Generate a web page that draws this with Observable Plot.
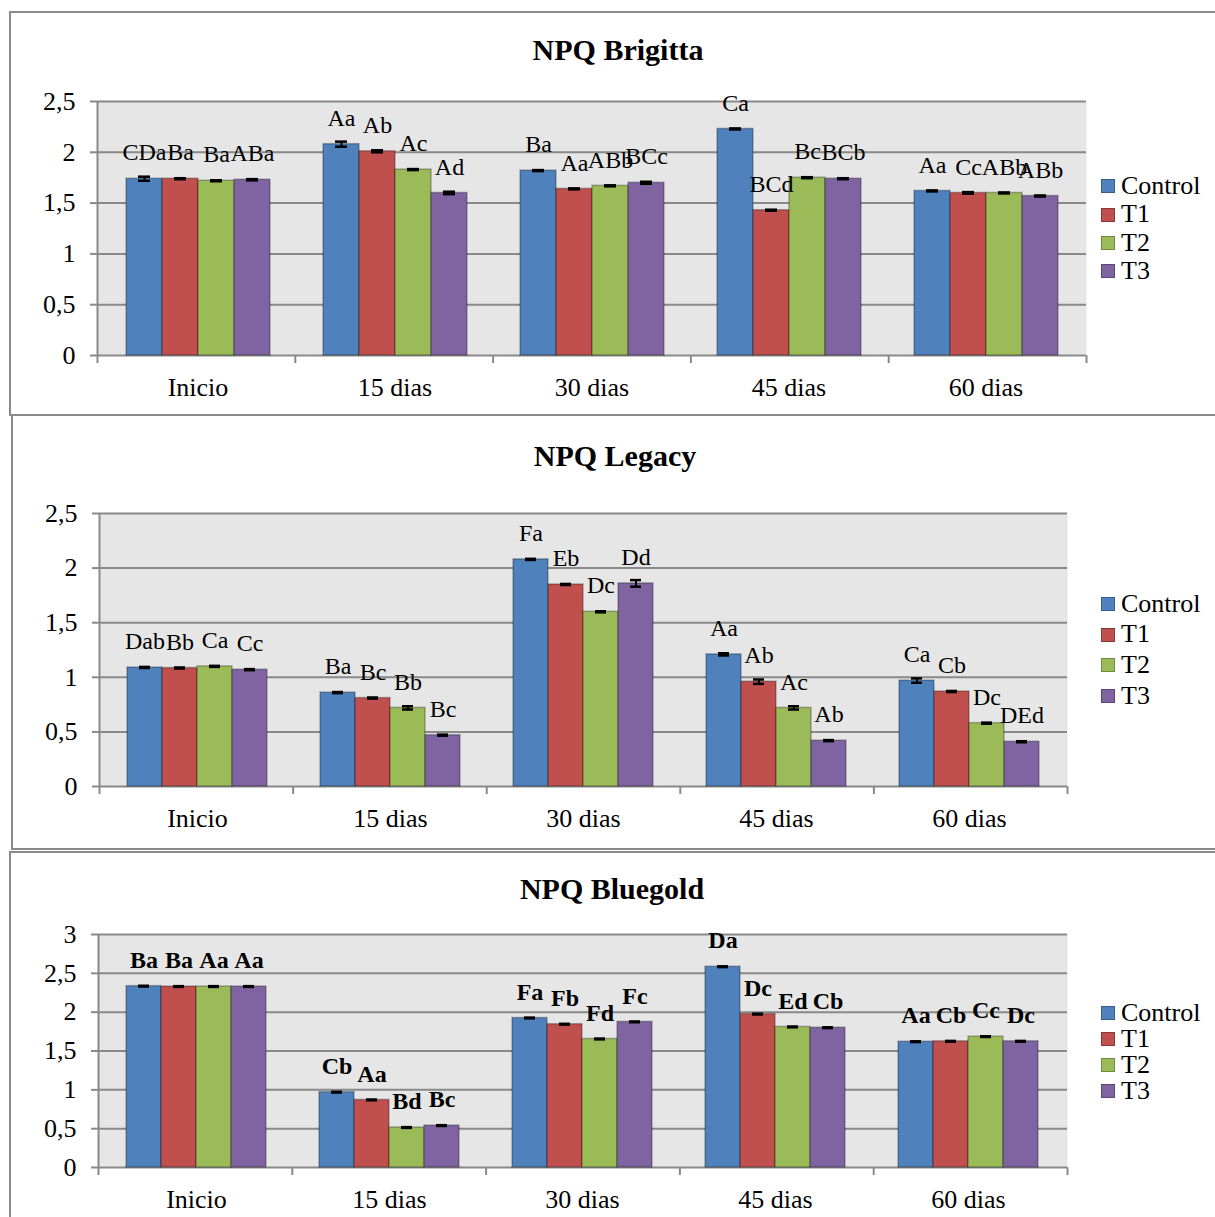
<!DOCTYPE html>
<html>
<head>
<meta charset="utf-8">
<script src="https://cdn.jsdelivr.net/npm/d3@7"></script>
<script src="https://cdn.jsdelivr.net/npm/@observablehq/plot@0.6"></script>
<style>
  body { margin: 0; background: #fff; }
  #root { position: relative; width: 1215px; height: 1217px; overflow: hidden;
          font-family: "Liberation Serif", "Times New Roman", serif; background: #fff; }
  .layer { position: absolute; left: 0; }
  .layer svg { display: block; }
  .bg svg { color: #898989; }
  .bg svg text { fill: #000; }
  .bg svg line, .bg svg path { stroke-width: 2px; }
  .title { position: absolute; font-weight: bold; font-size: 30px; line-height: 30px;
           white-space: nowrap; transform: translateX(-50%); z-index: 5; color: #000; }
  .legend { position: absolute; font-size: 26px; z-index: 5; color: #000; }
  .legend .row { display: flex; align-items: center; }
  .legend .sw { width: 12px; height: 12px; border: 1px solid; margin-right: 6px; }
  .box { position: absolute; box-sizing: border-box; border: 2px solid #8a8a8a; border-right: none; z-index: 4; }
</style>
</head>
<body>
<div id="root"></div>
<script>
const FONT = '"Liberation Serif", "Times New Roman", serif';

const categories = ["Inicio", "15 dias", "30 dias", "45 dias", "60 dias"];
const series = ["Control", "T1", "T2", "T3"];
const seriesColors = ["#4F81BD", "#C0504D", "#9BBB59", "#8064A2"];
const seriesEdges = ["#385D8A", "#8C3836", "#71893F", "#5C4776"];

// NPQ Brigitta
const brigittaTitle = "NPQ Brigitta";
const brigittaTicks = [0, 0.5, 1, 1.5, 2, 2.5];
const brigittaControl = [1.74, 2.08, 1.82, 2.23, 1.62];
const brigittaT1 = [1.74, 2.01, 1.64, 1.43, 1.60];
const brigittaT2 = [1.72, 1.83, 1.67, 1.75, 1.60];
const brigittaT3 = [1.73, 1.60, 1.70, 1.74, 1.57];
const brigittaErrControl = [0.02, 0.025, 0.005, 0.005, 0.005];
const brigittaErrT1 = [0.005, 0.01, 0.005, 0.005, 0.008];
const brigittaErrT2 = [0.005, 0.005, 0.005, 0.005, 0.005];
const brigittaErrT3 = [0.006, 0.012, 0.01, 0.005, 0.005];
const brigittaLabControl = ["CDa", "Aa", "Ba", "Ca", "Aa"];
const brigittaLabT1 = ["Ba", "Ab", "Aa", "BCd", "Cc"];
const brigittaLabT2 = ["Ba", "Ac", "ABb", "Bc", "ABb"];
const brigittaLabT3 = ["ABa", "Ad", "BCc", "BCb", "ABb"];

// NPQ Legacy
const legacyTitle = "NPQ Legacy";
const legacyTicks = [0, 0.5, 1, 1.5, 2, 2.5];
const legacyControl = [1.09, 0.86, 2.08, 1.21, 0.97];
const legacyT1 = [1.085, 0.81, 1.85, 0.96, 0.87];
const legacyT2 = [1.10, 0.72, 1.60, 0.72, 0.58];
const legacyT3 = [1.07, 0.47, 1.86, 0.42, 0.41];
const legacyErrControl = [0.005, 0.005, 0.005, 0.01, 0.02];
const legacyErrT1 = [0.005, 0.005, 0.005, 0.02, 0.005];
const legacyErrT2 = [0.005, 0.015, 0.005, 0.015, 0.005];
const legacyErrT3 = [0.005, 0.005, 0.03, 0.005, 0.005];
const legacyLabControl = ["Dab", "Ba", "Fa", "Aa", "Ca"];
const legacyLabT1 = ["Bb", "Bc", "Eb", "Ab", "Cb"];
const legacyLabT2 = ["Ca", "Bb", "Dc", "Ac", "Dc"];
const legacyLabT3 = ["Cc", "Bc", "Dd", "Ab", "DEd"];

// NPQ Bluegold
const bluegoldTitle = "NPQ Bluegold";
const bluegoldTicks = [0, 0.5, 1, 1.5, 2, 2.5, 3];
const bluegoldControl = [2.335, 0.97, 1.925, 2.585, 1.62];
const bluegoldT1 = [2.33, 0.87, 1.845, 1.975, 1.625];
const bluegoldT2 = [2.33, 0.515, 1.655, 1.81, 1.685];
const bluegoldT3 = [2.33, 0.54, 1.875, 1.80, 1.625];
const bluegoldErrControl = [0.005, 0.005, 0.005, 0.005, 0.005];
const bluegoldErrT1 = [0.005, 0.005, 0.005, 0.005, 0.005];
const bluegoldErrT2 = [0.005, 0.005, 0.005, 0.005, 0.005];
const bluegoldErrT3 = [0.005, 0.005, 0.005, 0.005, 0.005];
const bluegoldLabControl = ["Ba", "Cb", "Fa", "Da", "Aa"];
const bluegoldLabT1 = ["Ba", "Aa", "Fb", "Dc", "Cb"];
const bluegoldLabT2 = ["Aa", "Bd", "Fd", "Ed", "Cc"];
const bluegoldLabT3 = ["Aa", "Bc", "Fc", "Cb", "Dc"];

function buildRows(vals, errs, labs) {
  const rows = [];
  categories.forEach((cat, i) => {
    series.forEach((s, j) => {
      rows.push({cat, series: s, v: vals[j][i], e: errs[j][i], lab: labs[j][i]});
    });
  });
  return rows;
}

const panels = [
  {
    title: brigittaTitle, ticks: brigittaTicks,
    rows: buildRows([brigittaControl, brigittaT1, brigittaT2, brigittaT3],
                    [brigittaErrControl, brigittaErrT1, brigittaErrT2, brigittaErrT3],
                    [brigittaLabControl, brigittaLabT1, brigittaLabT2, brigittaLabT3]),
    top: 0, height: 420, mt: 101, mb: 65, ml: 97, mr: 129, bold: false,
    titleX: 618, titleY: 50, legTop: 172, legRow: 28.4,
    box: {left: 9, top: 11, height: 405}
  },
  {
    title: legacyTitle, ticks: legacyTicks,
    rows: buildRows([legacyControl, legacyT1, legacyT2, legacyT3],
                    [legacyErrControl, legacyErrT1, legacyErrT2, legacyErrT3],
                    [legacyLabControl, legacyLabT1, legacyLabT2, legacyLabT3]),
    top: 420, height: 430, mt: 93, mb: 64, ml: 99, mr: 148, bold: false,
    titleX: 615, titleY: 456, legTop: 588.5, legRow: 30.7,
    box: {left: 11, top: 414, height: 436}
  },
  {
    title: bluegoldTitle, ticks: bluegoldTicks,
    rows: buildRows([bluegoldControl, bluegoldT1, bluegoldT2, bluegoldT3],
                    [bluegoldErrControl, bluegoldErrT1, bluegoldErrT2, bluegoldErrT3],
                    [bluegoldLabControl, bluegoldLabT1, bluegoldLabT2, bluegoldLabT3]),
    top: 850, height: 367, mt: 84, mb: 50, ml: 98, mr: 148, bold: true,
    titleX: 612, titleY: 889, legTop: 1000, legRow: 26,
    box: {left: 9, top: 851, height: 400}
  }
];

const root = document.getElementById("root");
const fmt = d => String(d).replace(".", ",");

panels.forEach(p => {
  const ymax = p.ticks[p.ticks.length - 1];
  const common = {
    width: 1215, height: p.height,
    marginTop: p.mt, marginBottom: p.mb, marginLeft: p.ml, marginRight: p.mr
  };

  const bg = Plot.plot({
    ...common,
    style: {background: "white", fontFamily: FONT, fontSize: "26px", color: "#898989"},
    x: {domain: [0, categories.length], ticks: categories.length, tickSize: 8, tickFormat: () => "", label: null},
    y: {domain: [0, ymax], ticks: p.ticks, tickSize: 7, tickPadding: 15, tickFormat: fmt, label: null},
    marks: [
      Plot.frame({fill: "#e6e6e6", stroke: "none"}),
      Plot.ruleY(p.ticks, {stroke: "#898989", strokeWidth: 2}),
      Plot.ruleX([0], {stroke: "#898989", strokeWidth: 2})
    ]
  });

  const fg = Plot.plot({
    ...common,
    style: {background: "transparent", fontFamily: FONT, fontSize: "26px", color: "#000"},
    facet: {data: p.rows, x: "cat"},
    fx: {domain: categories, paddingInner: 0.262, paddingOuter: 0.131, axis: "bottom",
         tickSize: 0, tickPadding: 22, label: null},
    x: {domain: series, padding: 0, axis: null},
    y: {domain: [0, ymax], axis: null},
    color: {domain: series, range: seriesColors},
    marks: [
      Plot.barY(p.rows, {x: "series", y: "v", fill: "series", stroke: "#000", strokeOpacity: 0.28, strokeWidth: 1.5}),
      Plot.ruleX(p.rows, {x: "series", y1: d => d.v - d.e, y2: d => d.v + d.e, stroke: "#000", strokeWidth: 2}),
      Plot.tickY(p.rows, {x: "series", y: d => d.v - d.e, stroke: "#000", strokeWidth: 2.5, insetLeft: 12, insetRight: 12}),
      Plot.tickY(p.rows, {x: "series", y: d => d.v + d.e, stroke: "#000", strokeWidth: 2.5, insetLeft: 12, insetRight: 12}),
      Plot.text(p.rows, {x: "series", y: "v", text: "lab", dy: -26, fontSize: 24,
                         fontWeight: p.bold ? "bold" : "normal", fill: "#000"})
    ]
  });

  const bgDiv = document.createElement("div");
  bgDiv.className = "layer bg";
  bgDiv.style.top = p.top + "px";
  bgDiv.appendChild(bg);
  root.appendChild(bgDiv);

  const fgDiv = document.createElement("div");
  fgDiv.className = "layer fg";
  fgDiv.style.top = p.top + "px";
  fgDiv.appendChild(fg);
  root.appendChild(fgDiv);

  const box = document.createElement("div");
  box.className = "box";
  box.style.left = p.box.left + "px";
  box.style.top = p.box.top + "px";
  box.style.width = (1230 - p.box.left) + "px";
  box.style.height = p.box.height + "px";
  root.appendChild(box);

  const t = document.createElement("div");
  t.className = "title";
  t.textContent = p.title;
  t.style.left = p.titleX + "px";
  t.style.top = (p.titleY - 15) + "px";
  root.appendChild(t);

  const leg = document.createElement("div");
  leg.className = "legend";
  leg.style.left = "1101px";
  leg.style.top = p.legTop + "px";
  series.forEach((s, j) => {
    const row = document.createElement("div");
    row.className = "row";
    row.style.height = p.legRow + "px";
    row.style.lineHeight = p.legRow + "px";
    const sw = document.createElement("div");
    sw.className = "sw";
    sw.style.background = seriesColors[j];
    sw.style.borderColor = seriesEdges[j];
    const lab = document.createElement("span");
    lab.textContent = s;
    row.appendChild(sw);
    row.appendChild(lab);
    leg.appendChild(row);
  });
  root.appendChild(leg);
});
</script>
</body>
</html>
